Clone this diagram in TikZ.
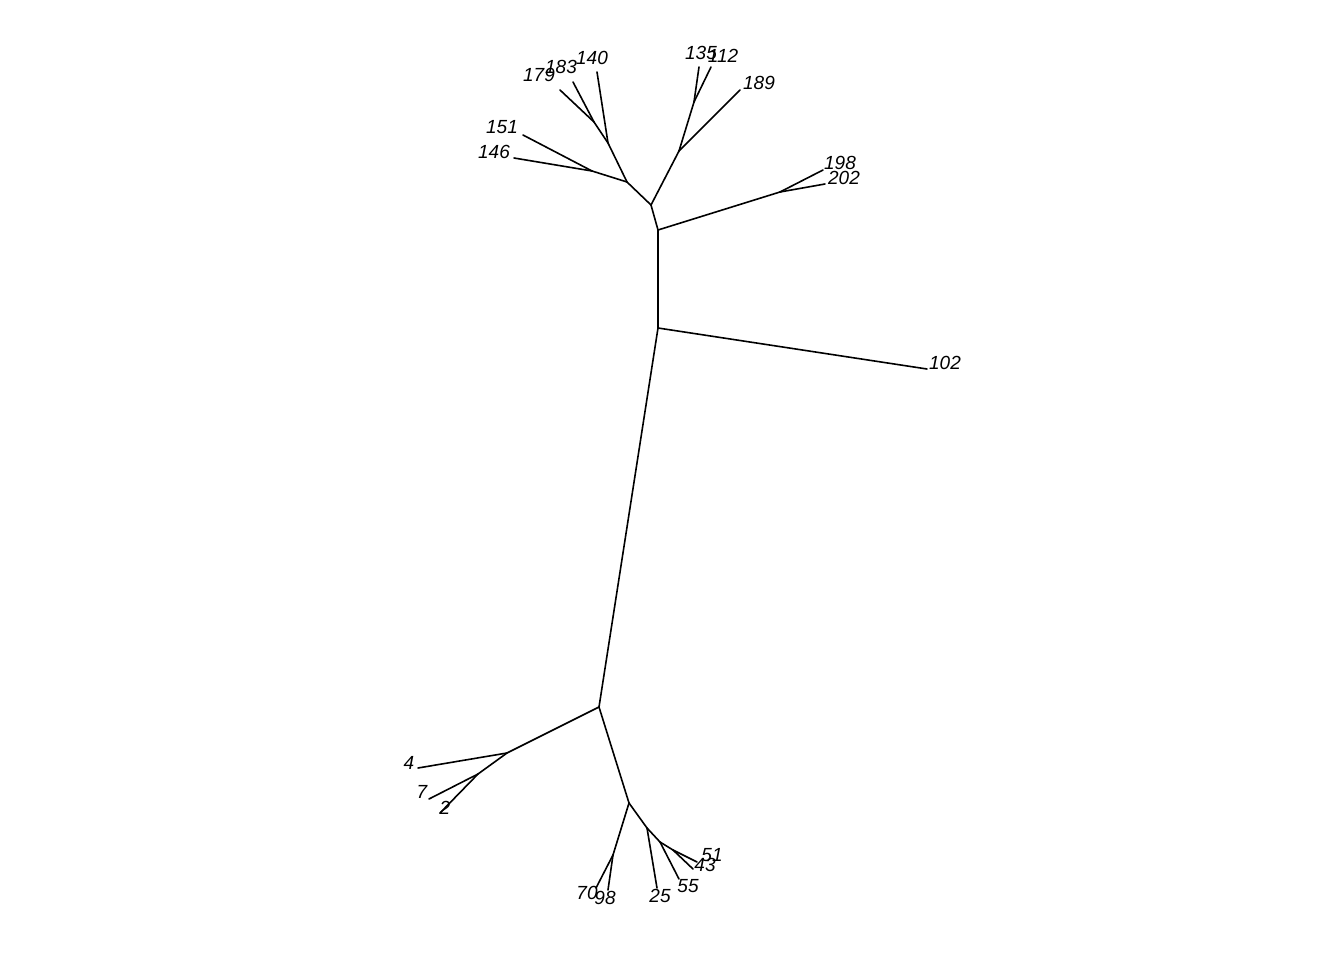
\documentclass[tikz,border=0pt]{standalone}
\usepackage{fontspec}
\setmainfont{Liberation Sans}
\begin{document}
\begin{tikzpicture}[x=1pt,y=-1pt,
  edge/.style={line width=1.6pt, line cap=round, line join=round},
  tiplab/.style={font=\fontsize{19}{19}\selectfont\itshape, inner sep=0pt, anchor=center}]
\useasboundingbox (0,0) rectangle (1344,960);
% internal nodes
\coordinate (A) at (658,328);
\coordinate (B) at (658,230);
\coordinate (C) at (651,205);
\coordinate (D) at (627,182);
\coordinate (F) at (608,143);
\coordinate (G) at (594,122);
\coordinate (H) at (592,171);
\coordinate (E) at (679,151);
\coordinate (I) at (694,102);
\coordinate (J) at (780,192);
\coordinate (L) at (599,707);
\coordinate (K) at (507,753);
\coordinate (M) at (478,774);
\coordinate (N) at (629,803);
\coordinate (O) at (613,855);
\coordinate (P) at (647,828);
\coordinate (Q) at (660,842);
\coordinate (R) at (673,850);
% tips
\coordinate (t140) at (597,72);
\coordinate (t183) at (573,82);
\coordinate (t179) at (560,90);
\coordinate (t151) at (523,135);
\coordinate (t146) at (514,158);
\coordinate (t135) at (699,67);
\coordinate (t112) at (711,67);
\coordinate (t189) at (740,90);
\coordinate (t198) at (823,170);
\coordinate (t202) at (825,184);
\coordinate (t102) at (927,369);
\coordinate (t4) at (418,768);
\coordinate (t7) at (429,799);
\coordinate (t2) at (440,813);
\coordinate (t70) at (596,888);
\coordinate (t98) at (608,890);
\coordinate (t25) at (657,888);
\coordinate (t55) at (679,879);
\coordinate (t43) at (693,869);
\coordinate (t51) at (697,862);
% edges
\draw[edge] (A) -- (B);
\draw[edge] (B) -- (C);
\draw[edge] (C) -- (D);
\draw[edge] (D) -- (F);
\draw[edge] (F) -- (G);
\draw[edge] (F) -- (t140);
\draw[edge] (G) -- (t183);
\draw[edge] (G) -- (t179);
\draw[edge] (D) -- (H);
\draw[edge] (H) -- (t151);
\draw[edge] (H) -- (t146);
\draw[edge] (C) -- (E);
\draw[edge] (E) -- (I);
\draw[edge] (I) -- (t135);
\draw[edge] (I) -- (t112);
\draw[edge] (E) -- (t189);
\draw[edge] (B) -- (J);
\draw[edge] (J) -- (t198);
\draw[edge] (J) -- (t202);
\draw[edge] (A) -- (t102);
\draw[edge] (A) -- (L);
\draw[edge] (L) -- (K);
\draw[edge] (K) -- (t4);
\draw[edge] (K) -- (M);
\draw[edge] (M) -- (t7);
\draw[edge] (M) -- (t2);
\draw[edge] (L) -- (N);
\draw[edge] (N) -- (O);
\draw[edge] (O) -- (t70);
\draw[edge] (O) -- (t98);
\draw[edge] (N) -- (P);
\draw[edge] (P) -- (t25);
\draw[edge] (P) -- (Q);
\draw[edge] (Q) -- (t55);
\draw[edge] (Q) -- (R);
\draw[edge] (R) -- (t43);
\draw[edge] (R) -- (t51);
% labels
\node[tiplab] (l140) at (592,58) {140};
\node[tiplab] (l183) at (561,67) {183};
\node[tiplab] (l179) at (539,75) {179};
\node[tiplab] (l151) at (502,127) {151};
\node[tiplab] (l146) at (494,152) {146};
\node[tiplab] (l135) at (701,53) {135};
\node[tiplab] (l112) at (723,56) {112};
\node[tiplab] (l189) at (759,83) {189};
\node[tiplab] (l198) at (840,163) {198};
\node[tiplab] (l202) at (844,178) {202};
\node[tiplab] (l102) at (945,363) {102};
\node[tiplab] (l4) at (409,763) {4};
\node[tiplab] (l7) at (422,792) {7};
\node[tiplab] (l2) at (445,808) {2};
\node[tiplab] (l70) at (587,893) {70};
\node[tiplab] (l98) at (605,898) {98};
\node[tiplab] (l25) at (660,896) {25};
\node[tiplab] (l55) at (688,886) {55};
\node[tiplab] (l43) at (705,865) {43};
\node[tiplab] (l51) at (712,855) {51};
\end{tikzpicture}
\end{document}
